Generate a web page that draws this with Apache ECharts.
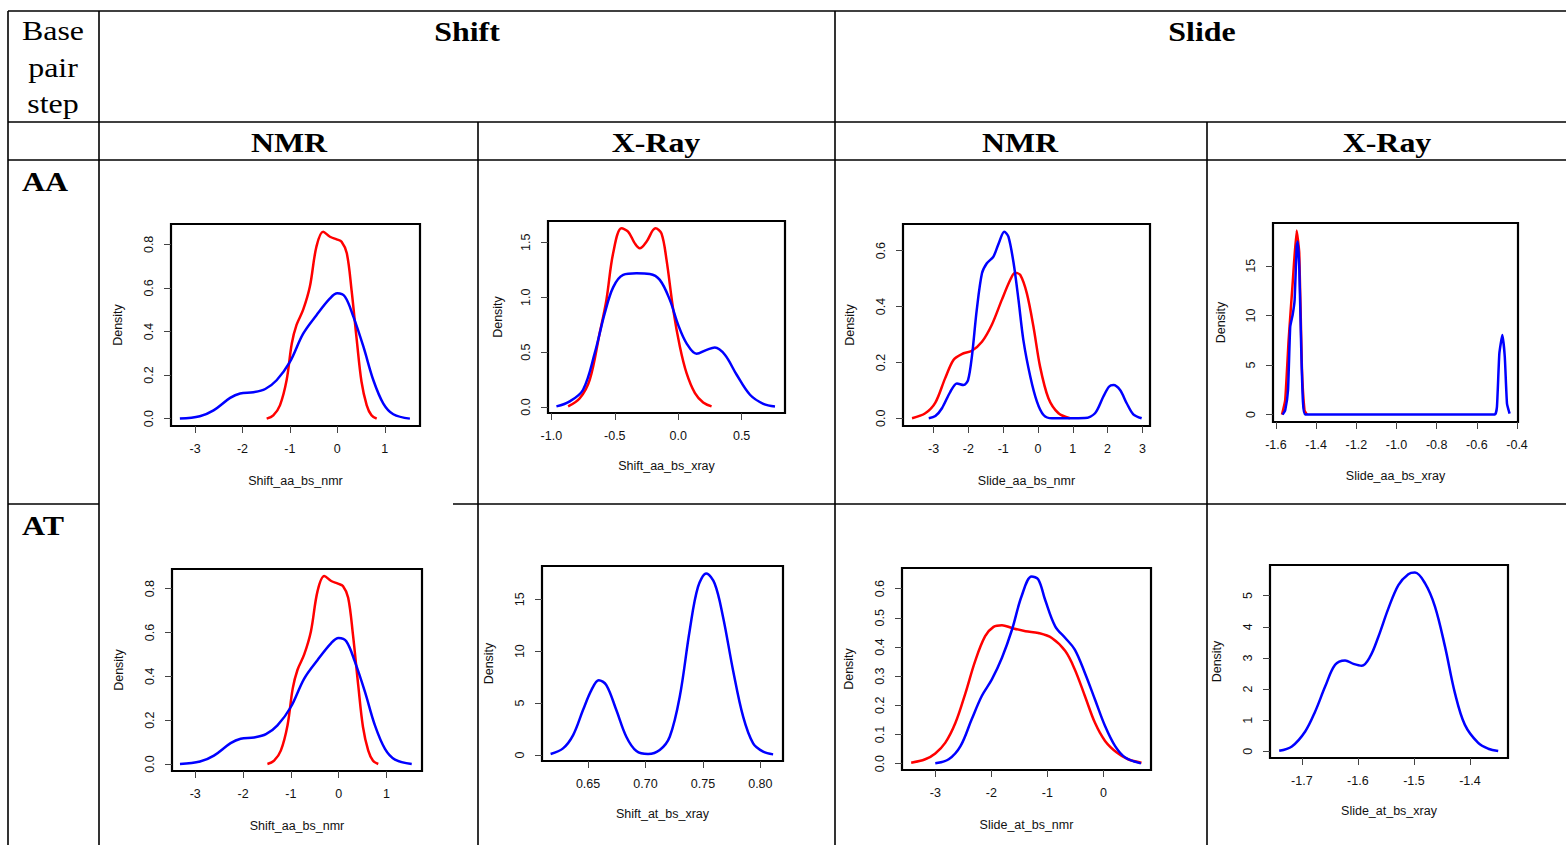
<!DOCTYPE html>
<html>
<head>
<meta charset="utf-8">
<script src="https://cdn.jsdelivr.net/npm/echarts@6/dist/echarts.min.js"></script>
<style>
html,body{margin:0;padding:0;background:#fff;}
#c{width:1566px;height:845px;}
</style>
</head>
<body>
<div id="c"></div>
<script>
// ---------- Table text ----------
const columnGroups = ['Shift', 'Slide'];
const methods = ['NMR', 'X-Ray', 'NMR', 'X-Ray'];
const baseSteps = ['AA', 'AT'];
const cornerLines = ['Base', 'pair', 'step'];

// ---------- Tick values ----------
const ticksShiftNmrX = [-3, -2, -1, 0, 1];
const ticksShiftNmrY = [0, 0.2, 0.4, 0.6, 0.8];
const ticksShiftAaXrayX = [-1.0, -0.5, 0.0, 0.5];
const ticksShiftAaXrayY = [0, 0.5, 1.0, 1.5];
const ticksSlideAaNmrX = [-3, -2, -1, 0, 1, 2, 3];
const ticksSlideAaNmrY = [0, 0.2, 0.4, 0.6];
const ticksSlideAaXrayX = [-1.6, -1.4, -1.2, -1.0, -0.8, -0.6, -0.4];
const ticksSlideAaXrayY = [0, 5, 10, 15];
const ticksShiftAtXrayX = [0.65, 0.70, 0.75, 0.80];
const ticksShiftAtXrayY = [0, 5, 10, 15];
const ticksSlideAtNmrX = [-3, -2, -1, 0];
const ticksSlideAtNmrY = [0, 0.1, 0.2, 0.3, 0.4, 0.5, 0.6];
const ticksSlideAtXrayX = [-1.7, -1.6, -1.5, -1.4];
const ticksSlideAtXrayY = [0, 1, 2, 3, 4, 5];

// ---------- Density curves ----------
// Shift AA NMR (also shown in AT row)
const shiftNmrBlueX = [-3.32,-2.90,-2.61,-2.26,-2.05,-1.77,-1.52,-1.28,-1.0,-0.72,-0.44,-0.155,0,0.16,0.34,0.55,0.76,0.97,1.18,1.53];
const shiftNmrBlueY = [0,0.011,0.038,0.095,0.115,0.121,0.136,0.176,0.26,0.39,0.475,0.552,0.575,0.56,0.467,0.33,0.176,0.069,0.02,0];
const shiftNmrRedX = [-1.49,-1.35,-1.21,-1.07,-0.96,-0.86,-0.72,-0.58,-0.44,-0.30,-0.155,-0.014,0.09,0.20,0.30,0.41,0.51,0.62,0.72,0.83];
const shiftNmrRedY = [0,0.015,0.061,0.176,0.345,0.43,0.50,0.605,0.79,0.858,0.835,0.823,0.812,0.759,0.59,0.36,0.169,0.061,0.015,0];

// Shift AA X-ray
const shiftAaXrayRedX = [-0.868,-0.776,-0.697,-0.618,-0.566,-0.513,-0.447,-0.395,-0.342,-0.303,-0.25,-0.179,-0.132,-0.092,-0.039,0.013,0.066,0.132,0.197,0.263];
const shiftAaXrayRedY = [0.006,0.08,0.25,0.68,0.976,1.40,1.627,1.597,1.49,1.445,1.506,1.627,1.582,1.34,0.885,0.552,0.309,0.127,0.042,0.006];
const shiftAaXrayBlueX = [-0.96,-0.855,-0.75,-0.658,-0.579,-0.513,-0.434,-0.329,-0.224,-0.145,-0.066,0,0.066,0.145,0.224,0.289,0.368,0.461,0.566,0.671,0.763];
const shiftAaXrayBlueY = [0.006,0.052,0.158,0.491,0.855,1.09,1.203,1.218,1.212,1.158,0.976,0.748,0.58,0.485,0.521,0.542,0.476,0.294,0.112,0.030,0.006];

// Slide AA NMR
const slideAaNmrBlueX = [-3.14,-2.95,-2.76,-2.52,-2.33,-2.14,-2.01,-1.90,-1.76,-1.61,-1.47,-1.28,-1.13,-0.97,-0.85,-0.70,-0.56,-0.42,-0.22,-0.03,0.16,0.40,0.88,1.35,1.64,1.88,2.04,2.17,2.36,2.55,2.74,2.98];
const slideAaNmrBlueY = [0,0.008,0.036,0.095,0.125,0.119,0.137,0.221,0.388,0.519,0.555,0.579,0.626,0.668,0.65,0.555,0.424,0.28,0.149,0.06,0.012,0,0,0.001,0.018,0.078,0.113,0.119,0.101,0.054,0.014,0];
const slideAaNmrRedX = [-3.62,-3.24,-2.95,-2.67,-2.43,-2.19,-1.90,-1.61,-1.33,-1.04,-0.80,-0.66,-0.51,-0.32,-0.13,0.06,0.30,0.59,0.92];
const slideAaNmrRedY = [0,0.018,0.056,0.143,0.209,0.230,0.242,0.274,0.334,0.424,0.495,0.521,0.513,0.447,0.328,0.185,0.072,0.018,0];

// Slide AA X-ray
const slideAaXrayBlueX = [-1.567,-1.554,-1.540,-1.529,-1.517,-1.507,-1.497,-1.492,-1.484,-1.474,-1.466,-1.454,-0.511,-0.500,-0.488,-0.473,-0.461,-0.450,-0.437];
const slideAaXrayBlueY = [0,0.44,2.46,8.86,10.04,11.56,16.95,17.46,14.9,6.5,1.45,0,0,0.78,6.17,8.02,5.83,1.11,0.1];
const slideAaXrayRedX = [-1.570,-1.554,-1.537,-1.517,-1.497,-1.484,-1.471,-1.458,-1.446];
const slideAaXrayRedY = [0,1.45,7.5,13.2,18.57,16.3,4.82,0.44,0];

// Shift AT X-ray
const shiftAtXrayBlueX = [0.6174,0.6282,0.637,0.6456,0.6529,0.6593,0.6659,0.6746,0.6833,0.6921,0.7022,0.7124,0.7211,0.7298,0.7385,0.7457,0.753,0.7602,0.7675,0.7762,0.785,0.7937,0.8024,0.8111];
const shiftAtXrayBlueY = [0.1,0.64,1.92,4.33,6.25,7.21,6.73,4.33,1.76,0.38,0.1,0.48,1.76,5.61,12.02,16.19,17.47,16.51,13.3,8.17,3.69,1.12,0.32,0.06];

// Slide AT NMR
const slideAtNmrRedX = [-3.43,-3.18,-3.0,-2.82,-2.64,-2.46,-2.29,-2.11,-1.96,-1.81,-1.63,-1.39,-1.16,-0.92,-0.68,-0.51,-0.33,-0.15,0.03,0.24,0.44,0.68];
const slideAtNmrRedY = [0.003,0.015,0.035,0.072,0.14,0.243,0.351,0.437,0.469,0.475,0.465,0.454,0.448,0.431,0.386,0.323,0.232,0.14,0.078,0.038,0.015,0.003];
const slideAtNmrBlueX = [-3.0,-2.76,-2.55,-2.35,-2.17,-1.99,-1.81,-1.63,-1.46,-1.28,-1.16,-1.04,-0.86,-0.68,-0.51,-0.33,-0.15,0.03,0.21,0.39,0.67];
const slideAtNmrBlueY = [0.001,0.015,0.06,0.152,0.232,0.289,0.363,0.46,0.574,0.642,0.631,0.562,0.471,0.431,0.391,0.311,0.22,0.129,0.06,0.021,0.001];

// Slide AT X-ray
const slideAtXrayBlueX = [-1.7404,-1.7178,-1.694,-1.6762,-1.6584,-1.6406,-1.6228,-1.6079,-1.593,-1.5782,-1.5634,-1.5455,-1.5277,-1.51,-1.4981,-1.4803,-1.4624,-1.4446,-1.4268,-1.409,-1.3853,-1.3674,-1.3496];
const slideAtXrayBlueY = [0.02,0.16,0.64,1.28,2.08,2.78,2.92,2.81,2.75,3.04,3.68,4.59,5.34,5.69,5.74,5.40,4.65,3.37,1.87,0.85,0.27,0.085,0.01];

// ---------- Panel layout ----------
const RED = '#ff0000', BLUE = '#0000ff';
const panels = [
  {rect:[171,224,249,202], xr:[-3.507,1.743], yr:[-0.0339,0.8935], xt:ticksShiftNmrX, yt:ticksShiftNmrY, xd:0, yd:1, name:'Shift_aa_bs_nmr', nameGap:48, yNameGap:47,
   curves:[[shiftNmrRedX,shiftNmrRedY,RED],[shiftNmrBlueX,shiftNmrBlueY,BLUE]], smooth:0.35},
  {rect:[548,221,237,192], xr:[-1.0265,0.842], yr:[-0.054,1.694], xt:ticksShiftAaXrayX, yt:ticksShiftAaXrayY, xd:1, yd:1, name:'Shift_aa_bs_xray', nameGap:46, yNameGap:44,
   curves:[[shiftAaXrayRedX,shiftAaXrayRedY,RED],[shiftAaXrayBlueX,shiftAaXrayBlueY,BLUE]], smooth:0.35},
  {rect:[903,224,247,202], xr:[-3.88,3.22], yr:[-0.0275,0.6955], xt:ticksSlideAaNmrX, yt:ticksSlideAaNmrY, xd:0, yd:1, name:'Slide_aa_bs_nmr', nameGap:48, yNameGap:47,
   curves:[[slideAaNmrRedX,slideAaNmrRedY,RED],[slideAaNmrBlueX,slideAaNmrBlueY,BLUE]], smooth:0.3},
  {rect:[1273,223,245,199], xr:[-1.6147,-0.3952], yr:[-0.745,19.32], xt:ticksSlideAaXrayX, yt:ticksSlideAaXrayY, xd:1, yd:0, name:'Slide_aa_bs_xray', nameGap:47, yNameGap:46,
   curves:[[slideAaXrayRedX,slideAaXrayRedY,RED],[slideAaXrayBlueX,slideAaXrayBlueY,BLUE]], smooth:0.15},
  {rect:[172,569,250,202], xr:[-3.487,1.745], yr:[-0.032,0.8897], xt:ticksShiftNmrX, yt:ticksShiftNmrY, xd:0, yd:1, name:'Shift_aa_bs_nmr', nameGap:48, yNameGap:47,
   curves:[[shiftNmrRedX,shiftNmrRedY,RED],[shiftNmrBlueX,shiftNmrBlueY,BLUE]], smooth:0.35},
  {rect:[542,566,241,195], xr:[0.6099,0.8197], yr:[-0.577,18.2], xt:ticksShiftAtXrayX, yt:ticksShiftAtXrayY, xd:2, yd:0, name:'Shift_at_bs_xray', nameGap:46, yNameGap:47,
   curves:[[shiftAtXrayBlueX,shiftAtXrayBlueY,BLUE]], smooth:0.35},
  {rect:[902,568,249,202], xr:[-3.594,0.85], yr:[-0.0218,0.6709], xt:ticksSlideAtNmrX, yt:ticksSlideAtNmrY, xd:0, yd:1, name:'Slide_at_bs_nmr', nameGap:48, yNameGap:47,
   curves:[[slideAtNmrRedX,slideAtNmrRedY,RED],[slideAtNmrBlueX,slideAtNmrBlueY,BLUE]], smooth:0.35},
  {rect:[1270,565,238,193], xr:[-1.7568,-1.3321], yr:[-0.2125,5.983], xt:ticksSlideAtXrayX, yt:ticksSlideAtXrayY, xd:1, yd:0, name:'Slide_at_bs_xray', nameGap:46, yNameGap:47,
   curves:[[slideAtXrayBlueX,slideAtXrayBlueY,BLUE]], smooth:0.35}
];

const SANS = '"Liberation Sans", Arial, sans-serif';
const SERIF = '"Liberation Serif", "Times New Roman", serif';

const grids = [], xAxes = [], yAxes = [], series = [];
panels.forEach((p, i) => {
  grids.push({left:p.rect[0], top:p.rect[1], width:p.rect[2], height:p.rect[3], show:true, borderColor:'#000', borderWidth:2.2, backgroundColor:'transparent'});
  const common = {
    gridIndex:i, type:'value', splitLine:{show:false},
    axisLine:{show:false, onZero:false},
    nameLocation:'middle',
    nameTextStyle:{fontFamily:SANS, fontSize:12.5, color:'#111'}
  };
  const tick = {show:true, inside:false, length:7, lineStyle:{color:'#444', width:1}};
  xAxes.push(Object.assign({}, common, {
    min:p.xr[0], max:p.xr[1], position:'bottom',
    axisTick:Object.assign({}, tick, {customValues:p.xt}),
    axisLabel:{customValues:p.xt, formatter:(v)=>Number(v).toFixed(p.xd), fontFamily:SANS, fontSize:12.5, color:'#111', margin:16},
    name:p.name, nameGap:p.nameGap
  }));
  yAxes.push(Object.assign({}, common, {
    min:p.yr[0], max:p.yr[1], position:'left',
    axisTick:Object.assign({}, tick, {customValues:p.yt}),
    axisLabel:{customValues:p.yt, rotate:90, formatter:(v)=>Number(v).toFixed(p.yd), fontFamily:SANS, fontSize:12.5, color:'#111', margin:16},
    name:'Density', nameGap:p.yNameGap, nameRotate:90
  }));
  p.curves.forEach((c) => {
    series.push({
      type:'line', xAxisIndex:i, yAxisIndex:i, showSymbol:false, symbol:'none',
      smooth:p.smooth, silent:true, clip:true,
      lineStyle:{color:c[2], width:2.5},
      data:c[0].map((x, k) => [x, c[1][k]])
    });
  });
});

// ---------- Table lines & header text ----------
const LW = 1.6;
const seg = (x1, y1, x2, y2) => ({type:'line', silent:true, shape:{x1, y1, x2, y2}, style:{stroke:'#000', lineWidth:LW}});
const lines = [
  seg(8, 11, 1566, 11),
  seg(8, 122, 1566, 122),
  seg(8, 160, 99, 160), seg(99, 160, 1566, 160),
  seg(8, 504, 99, 504), seg(453, 504, 1566, 504),
  seg(8, 11, 8, 845), seg(99, 11, 99, 845), seg(835, 11, 835, 845),
  seg(478, 122, 478, 845), seg(1207, 122, 1207, 845)
];
const txt = (s, x, y, bold, align) => ({
  type:'text', silent:true, x, y, scaleX:1.14,
  style:{text:s, font:(bold ? 'bold ' : '') + '28px ' + SERIF, fill:'#000', align:align || 'center', verticalAlign:'middle'}
});
const texts = [
  txt(cornerLines[0], 53, 30, false), txt(cornerLines[1], 53, 67, false), txt(cornerLines[2], 53, 103, false),
  txt(columnGroups[0], 467, 31, true), txt(columnGroups[1], 1202, 31, true),
  txt(methods[0], 289, 142, true), txt(methods[1], 656, 142, true), txt(methods[2], 1020, 142, true), txt(methods[3], 1387, 142, true),
  txt(baseSteps[0], 22, 181, true, 'left'), txt(baseSteps[1], 22, 525, true, 'left')
];

const chart = echarts.init(document.getElementById('c'), null, {renderer:'svg', width:1566, height:845});
chart.setOption({
  animation:false,
  backgroundColor:'#fff',
  grid:grids, xAxis:xAxes, yAxis:yAxes, series:series,
  graphic:{elements:lines.concat(texts)}
});
</script>
</body>
</html>
